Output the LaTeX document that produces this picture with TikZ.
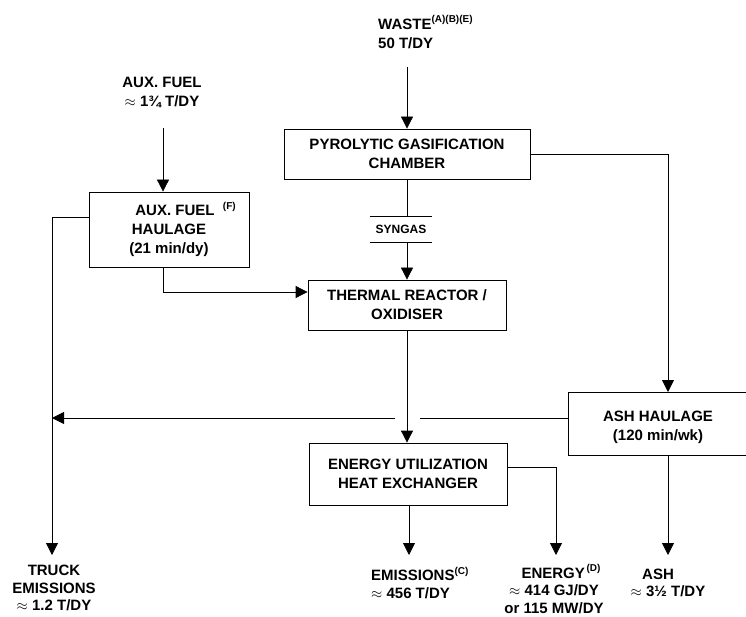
\documentclass[tikz,border=0pt]{standalone}
\usepackage{fontspec}
\setmainfont{Liberation Sans}
\usetikzlibrary{arrows.meta}
\newcommand\supx[1]{\raisebox{0.42em}{\fontsize{10}{10}\selectfont #1}}
\begin{document}
\begin{tikzpicture}[x=1pt,y=-1pt,
  every node/.style={font=\bfseries\fontsize{15}{19}\selectfont, inner sep=0pt},
  box/.style={draw, line width=0.8pt, align=center},
  lbl/.style={align=center},
  botlbl/.style={font=\bfseries\fontsize{15}{17.5}\selectfont},
  ln/.style={line width=0.8pt},
  arr/.style={line width=0.8pt, -{Triangle[length=12pt,width=12pt]}}]
\useasboundingbox (0,0) rectangle (746,617);
% labels
\node[align=left, anchor=west] (waste) at (378,32) {WASTE\supx{(A)(B)(E)}\\50 T/DY};
\node[lbl] (auxlbl) at (162,92) {AUX. FUEL\\$\approx$ 1\textthreequarters\ T/DY};
% boxes
\node[box, minimum width=246, minimum height=50] (pyro) at (407,154) {PYROLYTIC GASIFICATION\\CHAMBER};
\node[box, minimum width=160, minimum height=75] (aux) at (169,229.5) {\hspace{12pt}AUX. FUEL\rlap{\ \ \supx{(F)}}\\HAULAGE\\(21 min/dy)};
\node[font=\bfseries\fontsize{12}{12}\selectfont, minimum width=62, minimum height=25] (syn) at (401,229.5) {SYNGAS};
\node[box, minimum width=198, minimum height=50] (thermal) at (407,305) {THERMAL REACTOR /\\OXIDISER};
\node[box, minimum width=198, minimum height=62] (energy) at (408,474) {ENERGY UTILIZATION\\HEAT EXCHANGER};
\node[lbl] (ash) at (658,427) {ASH HAULAGE\\(120 min/wk)};
\draw[ln] (746,392) -- (568,392) coordinate (ashnw) -- (568,455) coordinate (ashsw) -- (746,455);
% bottom labels
\node[lbl, botlbl] (truck) at (54,588) {TRUCK\\EMISSIONS\\$\approx$ 1.2 T/DY};
\node[align=left, anchor=west, botlbl] (emis) at (371,583) {EMISSIONS\supx{(C)}\\$\approx$ 456 T/DY};
\node[lbl, botlbl] (energylbl) at (554,589) {\hspace{14pt}ENERGY\supx{\,(D)}\\$\approx$ 414 GJ/DY\\or 115 MW/DY};
\node[lbl, botlbl] (ashlbl) at (668,583) {ASH\hspace*{20pt}\\$\approx$ 3\textonehalf\ T/DY};
% coordinates
\coordinate (wastetop) at (407,67);
\coordinate (auxin) at (163,128);
\coordinate (truckx) at (52,217);
\coordinate (truckend) at (52,555);
\coordinate (ashx) at (668,152);
\coordinate (emx) at (409,505);
\coordinate (enx) at (556,467);
\coordinate (endy) at (0,555);
% connectors
\draw[arr] (wastetop) -- (pyro.north);
\draw[arr] (auxin) -- (auxin |- aux.north);
\draw[ln] (pyro.south) -- (pyro.south |- syn.north);
\draw[ln] (syn.north west) -- (syn.north east);
\draw[ln] (syn.south west) -- (syn.south east);
\draw[arr] (pyro.south |- syn.south) -- (thermal.north);
\draw[arr] (auxin |- aux.south) |- (thermal.west |- 0,292);
\draw[arr] (aux.west |- truckx) -- (truckx) -- (truckend);
\draw[arr] (pyro.east) -| (ashx |- ashnw);
\draw[arr] (thermal.south) -- (thermal.south |- energy.north);
\draw[ln] (ashnw |- 0,418) -- (420,418);
\draw[arr] (395,418) -- (truckx |- 0,418);
\draw[arr] (emx) -- (emx |- endy);
\draw[arr] (energy.east |- enx) -| (enx |- endy);
\draw[arr] (ashx |- ashsw) -- (ashx |- endy);
\end{tikzpicture}
\end{document}
